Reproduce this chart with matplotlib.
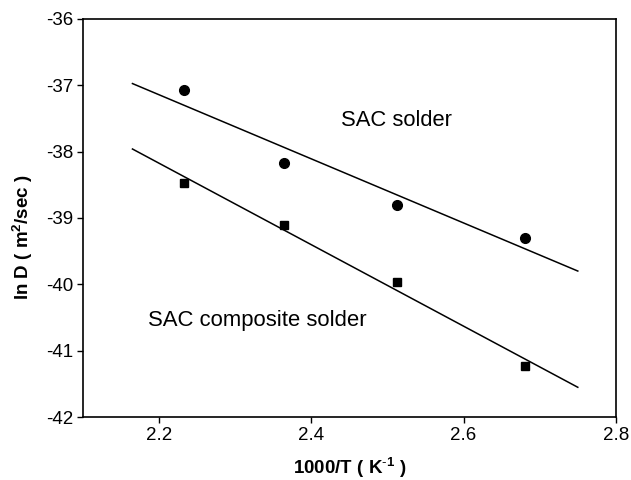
import matplotlib
matplotlib.use("Agg")
import matplotlib.pyplot as plt
import numpy as np

plt.rcParams['font.family'] = ['Liberation Sans', 'DejaVu Sans']
plt.rcParams['mathtext.fontset'] = 'custom'
plt.rcParams['mathtext.rm'] = 'Liberation Sans'
plt.rcParams['mathtext.bf'] = 'Liberation Sans:bold'
plt.rcParams['axes.unicode_minus'] = False

# 1000/T values
inv_t = [2.233, 2.364, 2.512, 2.681]
# ln D, SAC solder
ln_d_sac = [-37.08, -38.17, -38.81, -39.30]
# ln D, SAC composite solder
ln_d_comp = [-38.48, -39.11, -39.96, -41.23]

FIT_X = [2.165, 2.75]

fig = plt.figure(figsize=(6.31, 4.8), dpi=100)
ax = fig.add_axes([0.1315, 0.131, 0.8445, 0.830])

for ys, mk, ms in [(ln_d_sac, 'o', 7), (ln_d_comp, 's', 6.3)]:
    ax.plot(inv_t, ys, ls='none', marker=mk, ms=ms, color='black')
    k, b = np.polyfit(inv_t, ys, 1)
    fx = np.array(FIT_X)
    ax.plot(fx, k * fx + b, color='black', lw=1.1)

ax.text(2.439, -37.53, "SAC solder", fontsize=15.8, va='center', ha='left')
ax.text(2.186, -40.54, "SAC composite solder", fontsize=15.9, va='center', ha='left')

ax.set_xlim(2.1, 2.8)
ax.set_ylim(-42, -36)
ax.set_xticks([2.2, 2.4, 2.6, 2.8])
ax.set_yticks(range(-42, -35))
ax.tick_params(direction='out', length=4, width=1, pad=3, labelsize=13.5, top=False, right=False)
for s in ax.spines.values():
    s.set_linewidth(1.2)

ax.set_xlabel(r"1000/T ( K$^{\mathbf{\text{-}1}}$ )", fontsize=13.5, fontweight='bold', va='center')
ax.set_ylabel(r"ln D ( m$^{\mathbf{2}}$/sec )", fontsize=13.5, fontweight='bold', va='center')
ax.xaxis.set_label_coords(0.5, -0.127)
ax.yaxis.set_label_coords(-0.113, 0.452)

fig.savefig("out.png", dpi=100)
